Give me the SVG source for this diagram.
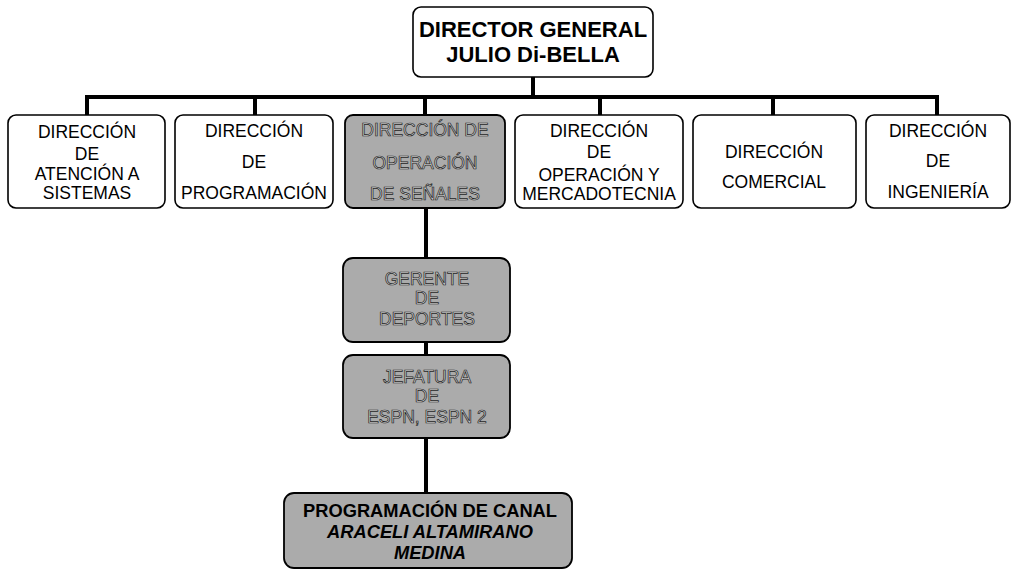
<svg xmlns="http://www.w3.org/2000/svg" width="1012" height="570" viewBox="0 0 1012 570">
<style>
.box{fill:#fff;stroke:#000;stroke-width:1.6}
.gray{fill:#ababab;stroke:#000;stroke-width:1.8}
.t{font-family:"Liberation Sans",Arial,sans-serif;font-size:17.5px;text-anchor:middle;fill:#000}
.tg{font-family:"Liberation Sans",Arial,sans-serif;font-size:17.5px;text-anchor:middle;fill:#d0d0d0;stroke:#222;stroke-width:0.7}
.tb{font-family:"Liberation Sans",Arial,sans-serif;font-weight:bold;text-anchor:middle;fill:#000}
.c{stroke:#000;stroke-width:4;fill:none}
</style>
<rect width="1012" height="570" fill="#fff"/>
<g id="connectors">
<path class="c" d="M533 77V97M85 97H939M87 97V115M255 97V115M425 97V115M600 97V115M773 97V115M937 97V115"/>
<path class="c" d="M426 208V258M426 342V355M426 438V493" stroke-width="3.5"/>
</g>
<g id="director">
<rect class="box" x="413" y="7" width="240" height="70" rx="8"/>
<text class="tb" x="533" y="37" font-size="22">DIRECTOR GENERAL</text>
<text class="tb" x="533" y="62" font-size="22">JULIO Di-BELLA</text>
</g>
<g id="atencion">
<rect class="box" x="8" y="115" width="157" height="93" rx="8"/>
<text class="t" x="87" y="138">DIRECCIÓN</text>
<text class="t" x="87" y="160">DE</text>
<text class="t" x="87" y="180">ATENCIÓN A</text>
<text class="t" x="87" y="199">SISTEMAS</text>
</g>
<g id="programacion">
<rect class="box" x="175" y="115" width="158" height="93" rx="8"/>
<text class="t" x="254" y="137">DIRECCIÓN</text>
<text class="t" x="254" y="168">DE</text>
<text class="t" x="254" y="199">PROGRAMACIÓN</text>
</g>
<g id="senales">
<rect class="gray" x="345" y="115" width="160" height="93" rx="8"/>
<text class="tg" x="425" y="136">DIRECCIÓN DE</text>
<text class="tg" x="425" y="169">OPERACIÓN</text>
<text class="tg" x="425" y="200">DE SEÑALES</text>
</g>
<g id="mercadotecnia">
<rect class="box" x="515" y="115" width="168" height="93" rx="8"/>
<text class="t" x="599" y="137">DIRECCIÓN</text>
<text class="t" x="599" y="158">DE</text>
<text class="t" x="599" y="181">OPERACIÓN Y</text>
<text class="t" x="599" y="200">MERCADOTECNIA</text>
</g>
<g id="comercial">
<rect class="box" x="693" y="115" width="163" height="93" rx="8"/>
<text class="t" x="774" y="158">DIRECCIÓN</text>
<text class="t" x="774" y="188">COMERCIAL</text>
</g>
<g id="ingenieria">
<rect class="box" x="866" y="115" width="144" height="93" rx="8"/>
<text class="t" x="938" y="137">DIRECCIÓN</text>
<text class="t" x="938" y="167">DE</text>
<text class="t" x="938" y="198">INGENIERÍA</text>
</g>
<g id="gerente">
<rect class="gray" x="343" y="258" width="167" height="84" rx="10"/>
<text class="tg" x="427" y="285">GERENTE</text>
<text class="tg" x="427" y="304">DE</text>
<text class="tg" x="427" y="325">DEPORTES</text>
</g>
<g id="jefatura">
<rect class="gray" x="343" y="355" width="167" height="83" rx="10"/>
<text class="tg" x="427" y="383">JEFATURA</text>
<text class="tg" x="427" y="402">DE</text>
<text class="tg" x="427" y="423">ESPN, ESPN 2</text>
</g>
<g id="canal">
<rect class="gray" x="284" y="493" width="288" height="75" rx="10"/>
<text class="tb" x="430" y="517" font-size="18.3">PROGRAMACIÓN DE CANAL</text>
<text class="tb" x="430" y="538" font-size="18.3" font-style="italic">ARACELI ALTAMIRANO</text>
<text class="tb" x="430" y="559" font-size="18.3" font-style="italic">MEDINA</text>
</g>
</svg>
